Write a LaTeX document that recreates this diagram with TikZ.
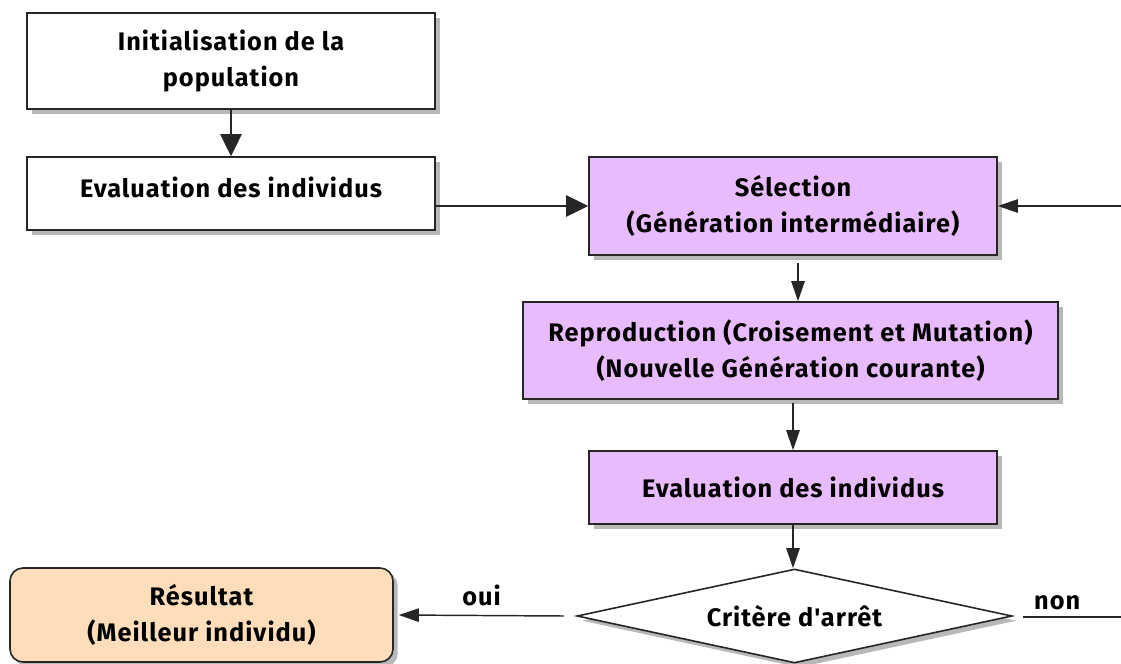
\documentclass[tikz,border=0pt]{standalone}
\usepackage{fontspec}
\setmainfont{Fira Sans}
\newfontfamily\cfont{Fira Sans}[LetterSpace=4]
\usetikzlibrary{shapes.geometric,shadows,arrows.meta,calc}
\definecolor{lav}{HTML}{E8BBFC}
\definecolor{peach}{HTML}{FEDDBB}
\tikzset{
  txt/.style={font=\cfont\bfseries\fontsize{19}{26.5}\selectfont},
  box/.style={txt, draw=black!85, line width=1.2pt, fill=white, align=center, inner sep=0pt,
    drop shadow={shadow xshift=3.5pt, shadow yshift=-3.5pt, fill=black!28, opacity=1}},
  lbl/.style={txt, inner sep=0pt},
  conn/.style={draw=black!85, line width=1.1pt},
  arr/.style={conn, -{Triangle[length=15pt,width=10pt]}},
  bigarr/.style={conn, -{Triangle[length=16.5pt,width=16pt]}}
}
\begin{document}
\begin{tikzpicture}[x=0.75pt,y=-0.75pt]
\useasboundingbox (0,0) rectangle (1121,664);
\node[box, minimum width=306pt, minimum height=72pt] (init) at (231,61) {Initialisation de la\\population};
\node[box, minimum width=306pt, minimum height=54.75pt, text height=13.5pt, text depth=8pt] (eval1) at (231,193.5) {Evaluation des individus};
\node[box, fill=lav, minimum width=306pt, minimum height=73.5pt] (sel) at (793,206) {Sélection\\(Génération intermédiaire)};
\node[box, fill=lav, minimum width=401.25pt, minimum height=72.75pt] (repro) at (790.5,350.5) {Reproduction (Croisement et Mutation)\\(Nouvelle Génération courante)};
\node[box, fill=lav, minimum width=306pt, minimum height=54.75pt] (eval2) at (793,487.5) {Evaluation des individus};
\node[box, diamond, shape aspect=4.6, minimum width=326.25pt, minimum height=70.5pt] (crit) at (794.5,616) {Critère d'arrêt};
\node[box, fill=peach, rounded corners=9.75pt, minimum width=287.25pt, minimum height=70.5pt] (res) at (201.5,615) {Résultat\\(Meilleur individu)};
\coordinate (inR) at (1121,206);
\coordinate (outR) at (1121,617);
\draw[bigarr] (init.south) -- (eval1.north);
\draw[bigarr] (sel.west -| eval1.east) -- (sel.west);
\draw[arr] (inR) -- (sel.east);
\draw[arr] ($(sel.south)+(5,7)$) coordinate (s1) -- (s1 |- repro.north);
\draw[arr] ($(eval2.north |- repro.south)+(0,3)$) -- (eval2.north);
\draw[arr] (eval2.south) -- (eval2.south |- crit.north);
\draw[arr] ($(crit.west)+(-12,0)$) -- node[lbl, above=6.5pt] (oui) {oui} ($(res.east)+(5,0)$);
\draw[conn] ($(crit.east)+(10,1)$) -- node[lbl, pos=0.35, above=4.5pt] (non) {non} (outR);
\end{tikzpicture}
\end{document}
